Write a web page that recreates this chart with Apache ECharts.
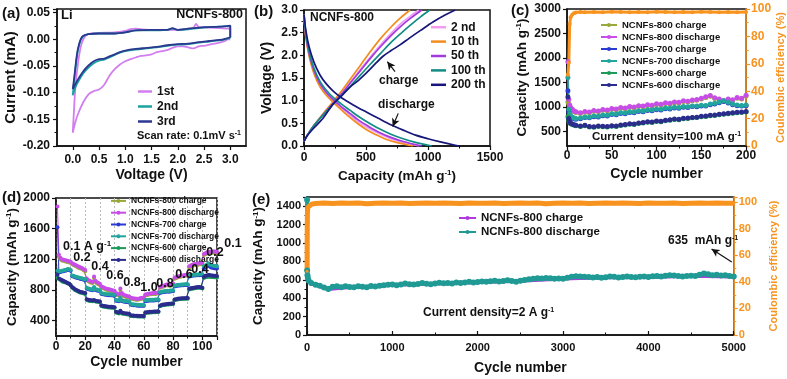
<!DOCTYPE html>
<html>
<head>
<meta charset="utf-8">
<script src="https://cdn.jsdelivr.net/npm/echarts@6/dist/echarts.min.js"></script>
<style>
html, body { margin: 0; padding: 0; background: #fff; }
#main { width: 787px; height: 379px; }
</style>
</head>
<body>
<div id="main"></div>
<script>
// ---- (a) CV curves: [voltage, current]
var cv1st = [[3.0,0.000],[2.95,0.000],[2.9,-0.003],[2.8,-0.006],[2.7,-0.008],[2.6,-0.010],[2.5,-0.012],[2.4,-0.013],[2.3,-0.017],[2.2,-0.015],[2.1,-0.013],[2.0,-0.013],[1.9,-0.016],[1.8,-0.020],[1.7,-0.022],[1.6,-0.024],[1.5,-0.028],[1.4,-0.030],[1.3,-0.031],[1.2,-0.034],[1.1,-0.037],[1.0,-0.041],[0.9,-0.047],[0.8,-0.056],[0.7,-0.068],[0.6,-0.085],[0.5,-0.094],[0.4,-0.097],[0.3,-0.103],[0.2,-0.118],[0.1,-0.140],[0.05,-0.155],[0.0,-0.175],
  [0.02,-0.140],[0.05,-0.090],[0.1,-0.045],[0.15,-0.015],[0.2,0.000],[0.25,0.007],[0.3,0.010],[0.5,0.012],[0.8,0.013],[1.0,0.016],[1.1,0.019],[1.2,0.020],[1.3,0.019],[1.5,0.018],[1.8,0.018],[2.0,0.018],[2.2,0.020],[2.3,0.022],[2.35,0.029],[2.4,0.023],[2.6,0.022],[2.8,0.021],[2.95,0.020],[3.0,0.020],[3.0,0.003]];
var cv2nd = [[3.0,0.003],[2.9,0.000],[2.8,-0.002],[2.6,-0.004],[2.4,-0.006],[2.2,-0.009],[2.0,-0.010],[1.8,-0.012],[1.6,-0.015],[1.4,-0.017],[1.2,-0.019],[1.0,-0.022],[0.9,-0.025],[0.8,-0.029],[0.7,-0.034],[0.6,-0.038],[0.5,-0.040],[0.4,-0.045],[0.3,-0.053],[0.2,-0.064],[0.1,-0.080],[0.05,-0.090],[0.0,-0.105],
  [0.03,-0.075],[0.07,-0.040],[0.1,-0.020],[0.15,-0.002],[0.2,0.006],[0.3,0.010],[0.5,0.011],[0.8,0.011],[1.0,0.013],[1.2,0.017],[1.5,0.017],[1.8,0.018],[1.9,0.020],[2.0,0.018],[2.2,0.019],[2.5,0.022],[2.8,0.024],[3.0,0.025],[3.0,0.003]];
var cv3rd = [[3.0,0.004],[2.9,0.001],[2.8,-0.001],[2.6,-0.003],[2.4,-0.005],[2.2,-0.008],[2.0,-0.009],[1.8,-0.011],[1.6,-0.014],[1.4,-0.016],[1.2,-0.018],[1.0,-0.021],[0.9,-0.024],[0.8,-0.028],[0.7,-0.032],[0.6,-0.036],[0.5,-0.037],[0.4,-0.041],[0.3,-0.049],[0.2,-0.060],[0.1,-0.075],[0.05,-0.084],[0.0,-0.093],
  [0.03,-0.070],[0.07,-0.035],[0.1,-0.017],[0.15,0.000],[0.2,0.007],[0.3,0.010],[0.5,0.011],[0.8,0.011],[1.0,0.013],[1.2,0.017],[1.5,0.018],[1.8,0.018],[1.9,0.021],[2.0,0.018],[2.2,0.020],[2.5,0.023],[2.8,0.024],[3.0,0.026],[3.0,0.004]];

// ---- (b) charge / discharge profiles: [capacity, voltage]
var dis2 = [[0,2.9],[15,2.42],[40,2.02],[80,1.63],[130,1.33],[180,1.15],[240,0.98],[300,0.84],[370,0.68],[440,0.53],[510,0.41],[600,0.28],[700,0.16],[800,0.08],[930,0]];
var chg2 = [[0,0.1],[30,0.25],[80,0.45],[150,0.68],[220,0.9],[300,1.15],[380,1.43],[460,1.71],[540,1.98],[620,2.24],[700,2.48],[780,2.7],[860,2.87],[925,3.0]];
var dis10 = [[0,2.9],[15,2.4],[40,2.0],[80,1.6],[130,1.3],[180,1.12],[240,0.95],[300,0.8],[370,0.63],[440,0.48],[505,0.36],[580,0.25],[660,0.15],[760,0.07],[880,0]];
var chg10 = [[0,0.1],[30,0.25],[80,0.45],[150,0.7],[220,0.93],[300,1.2],[380,1.5],[460,1.8],[540,2.1],[620,2.38],[700,2.62],[780,2.83],[855,3.0]];
var dis50 = [[0,2.9],[15,2.45],[40,2.05],[80,1.67],[130,1.37],[180,1.18],[240,1.01],[300,0.87],[370,0.72],[440,0.57],[510,0.45],[600,0.31],[700,0.19],[800,0.1],[950,0]];
var chg50 = [[0,0.1],[30,0.25],[80,0.45],[150,0.68],[220,0.9],[300,1.14],[380,1.41],[460,1.68],[540,1.95],[620,2.2],[700,2.43],[780,2.64],[860,2.82],[950,3.0]];
var dis100 = [[0,2.9],[15,2.48],[40,2.1],[80,1.72],[130,1.42],[180,1.23],[240,1.06],[300,0.93],[370,0.79],[440,0.65],[510,0.53],[600,0.39],[700,0.26],[800,0.16],[900,0.08],[1030,0]];
var chg100 = [[0,0.1],[30,0.25],[80,0.45],[150,0.67],[220,0.88],[300,1.1],[380,1.34],[460,1.58],[540,1.82],[620,2.05],[700,2.28],[780,2.48],[860,2.67],[940,2.85],[1015,3.0]];
var dis200 = [[0,2.9],[15,2.55],[40,2.2],[80,1.85],[130,1.56],[180,1.37],[240,1.2],[300,1.07],[370,0.95],[440,0.84],[510,0.74],[600,0.61],[700,0.47],[800,0.35],[900,0.24],[1000,0.16],[1100,0.09],[1180,0.04],[1250,0]];
var chg200 = [[0,0.1],[30,0.24],[80,0.4],[150,0.6],[236,0.93],[300,1.1],[371,1.3],[440,1.45],[505,1.62],[570,1.8],[637,1.98],[700,2.1],[774,2.23],[850,2.38],[940,2.55],[1043,2.74],[1130,2.88],[1220,3.0]];

// ---- (c) cycling at 100 mA g-1
var cycC = [1,2,3,4,6,8,10,15,20,25,30,35,40,45,50,55,60,65,70,75,80,85,90,95,100,105,110,115,120,125,130,135,140,145,150,155,160,165,170,175,180,185,190,195,200];
var c800dis = [1920,1150,1040,990,950,915,900,880,905,895,925,915,945,935,965,955,985,975,1005,995,1025,1015,1045,1035,1065,1055,1085,1075,1100,1095,1125,1115,1140,1150,1175,1205,1230,1185,1160,1130,1160,1145,1190,1175,1235];
var c800chg = [1100,1060,990,950,925,900,885,865,890,880,910,900,930,920,950,940,970,960,990,980,1010,1000,1030,1020,1050,1040,1070,1060,1085,1080,1110,1100,1125,1135,1160,1190,1215,1170,1145,1115,1145,1130,1175,1160,1220];
var c700dis = [1600,950,860,820,790,770,760,770,795,790,815,810,835,830,860,855,880,875,900,895,920,915,940,935,955,950,975,970,990,985,1005,1000,1020,1015,1035,1030,1060,1075,1100,1125,1095,1060,1040,1030,1040];
var c700chg = [1330,900,830,800,775,755,745,755,780,775,800,795,820,815,845,840,865,860,885,880,905,900,925,920,940,935,960,955,975,970,990,985,1005,1000,1020,1015,1045,1060,1085,1110,1080,1045,1025,1015,1025];
var c600dis = [1200,760,700,670,650,635,625,610,625,600,595,610,605,600,615,610,630,640,655,650,670,680,695,690,710,705,725,735,750,745,765,770,785,790,810,815,830,835,850,860,870,880,890,895,905];
var c600chg = [800,720,680,655,640,625,615,600,615,590,585,600,595,590,605,600,620,630,645,640,660,670,685,680,700,695,715,725,740,735,755,760,775,780,800,805,820,825,840,850,860,870,880,885,895];
var cycCE = [1,2,3,4,6,8,10,15,20,30,40,50,60,70,80,90,100,110,120,130,140,150,160,170,180,190,200];
var ceC = [52,61,89,94,96,97,97.5,97.8,97.6,97.9,97.7,98.0,97.8,97.6,97.9,97.7,98.0,97.8,97.6,97.9,97.7,98.0,97.8,97.6,97.9,97.7,97.8];

// ---- (d) rate performance, cycles 1..110
var d800dis = [1890,1260,1220,1200,1195,1190,1185,1180,1175,1170, 1150,1140,1130,1120,1110,1100,1095,1085,1070,1060, 950,930,920,910,905,975,920,900,890,880, 850,840,830,820,815,810,805,800,795,790, 760,750,745,820,760,740,730,725,720,715, 700,695,690,688,686,685,690,695,700,700, 740,745,750,755,755,760,760,760,765,765, 840,850,855,860,870,875,870,865,880,885, 960,970,975,980,985,990,990,995,1000,1000, 1110,1120,1130,1135,1140,1140,1145,1150,1150,1155, 1270,1280,1290,1295,1300,1300,1300,1305,1300,1300];
var d800chg = [1000,1230,1200,1185,1180,1175,1170,1165,1160,1155, 1135,1125,1115,1105,1095,1085,1080,1070,1055,1045, 935,915,905,895,890,955,905,885,875,865, 835,825,815,805,800,795,790,785,780,775, 745,735,730,800,745,725,715,710,705,700, 688,683,678,676,674,673,678,683,688,688, 728,733,738,743,743,748,748,748,753,753, 828,838,843,848,858,863,858,853,868,873, 948,958,963,968,973,978,978,983,988,988, 1095,1105,1115,1120,1125,1125,1130,1135,1135,1140, 1255,1265,1275,1280,1285,1285,1285,1290,1285,1285];
var d700dis = [1050,1040,1045,1050,1055,1060,1065,1075,1070,1060, 990,985,975,970,965,960,955,950,945,940, 830,820,815,810,808,840,810,805,800,798, 760,755,750,748,745,743,742,740,738,735, 670,665,662,700,665,660,658,655,652,650, 620,615,612,610,608,606,605,605,604,603, 665,668,670,672,672,673,674,675,676,676, 770,778,782,785,788,790,788,792,795,795, 855,862,866,868,870,872,873,874,875,875, 985,990,995,998,1000,1002,1003,1004,1005,1005, 1110,1120,1130,1150,1135,1125,1120,1115,1112,1110];
var d700chg = [1620,1030,1035,1040,1045,1050,1055,1065,1060,1050, 980,975,965,960,955,950,945,940,935,930, 820,810,805,800,798,830,800,795,790,788, 750,745,740,738,735,733,732,730,728,725, 660,655,652,690,655,650,648,645,642,640, 610,605,602,600,598,596,595,595,594,593, 655,658,660,662,662,663,664,665,666,666, 760,768,772,775,778,780,778,782,785,785, 845,852,856,858,860,862,863,864,865,865, 975,980,985,988,990,992,993,994,995,995, 1080,1095,1105,1120,1105,1095,1090,1085,1082,1080];
var d600dis = [1000,950,940,930,920,910,900,890,880,860, 840,825,810,800,790,780,775,770,765,760, 680,672,668,665,662,670,660,656,652,650, 600,595,590,588,585,583,582,580,578,576, 515,510,505,530,505,500,498,495,492,490, 470,468,466,465,464,463,462,462,461,460, 505,510,512,515,516,517,518,519,520,520, 595,605,610,612,615,618,620,622,623,625, 675,680,685,688,690,692,693,694,695,695, 815,822,826,830,832,835,838,840,836,830, 970,985,990,995,995,990,988,985,985,983];
var d600chg = [960,945,930,915,905,900,895,885,880,870, 830,815,800,790,780,770,765,760,755,750, 670,662,658,655,652,660,650,646,642,640, 590,585,580,578,575,573,572,570,568,566, 505,500,495,520,495,490,488,485,482,480, 462,460,458,457,456,455,454,454,453,452, 497,502,504,507,508,509,510,511,512,512, 587,597,602,604,607,610,612,614,615,617, 667,672,677,680,682,684,685,686,687,687, 805,812,816,820,822,825,828,830,826,820, 955,965,970,972,972,970,968,966,965,963];
var rateLabels = ['0.1 A g{sup|-1}','0.2','0.4','0.6','0.8','1.0','0.8','0.6','0.4','0.2','0.1'];

// ---- (e) long cycling at 2 A g-1
var cycE = [1,2,5,10,20,50,100,150,200,250,300,350,400,450,500,550,600,650,700,750,800,850,900,950,1000,1050,1100,1150,1200,1250,1300,1350,1400,1450,1500,1550,1600,1650,1700,1750,1800,1850,1900,1950,2000,2050,2100,2150,2200,2250,2300,2350,2400,2450,2500,2550,2600,2650,2700,2750,2800,2850,2900,2950,3000,3050,3100,3150,3200,3250,3300,3350,3400,3450,3500,3550,3600,3650,3700,3750,3800,3850,3900,3950,4000,4050,4100,4150,4200,4250,4300,4350,4400,4450,4500,4550,4600,4650,4700,4750,4800,4850,4900,4950,5000];
var e800dis = [1470,700,650,620,590,565,545,535,515,500,525,530,520,530,522,518,530,525,520,532,528,535,540,545,548,540,548,560,552,548,555,565,558,552,560,568,562,566,560,570,565,572,578,570,575,582,578,585,590,582,588,595,588,580,590,598,605,612,618,615,620,618,612,615,612,622,632,638,635,632,630,626,630,622,628,635,632,625,630,636,630,628,632,635,630,638,642,635,645,650,646,640,635,640,645,642,655,668,660,650,655,648,650,642,635];
var cycEchg = [1,2,10,50,250,500,1000,1500,2000,2500,3000,3500,4000,4500,5000];
var e800chg = [650,640,600,555,495,515,540,555,570,585,608,622,626,638,630];
var cycECE = [1,2,3,5,10,20,50,100,200,300,400,500,600,700,800,900,1000,1100,1200,1300,1400,1500,1600,1700,1800,1900,2000,2100,2200,2300,2400,2500,2600,2700,2800,2900,3000,3100,3200,3300,3400,3500,3600,3700,3800,3900,4000,4100,4200,4300,4400,4500,4600,4700,4800,4900,5000];
var ceE = [48,70,82,92,96,97.5,98.6,99.1,99.4,99.1,99.5,99.2,99.4,99.0,99.3,99.5,99.2,99.4,99.1,99.3,99.5,99.2,99.4,99.3,99.1,99.5,99.3,99.2,99.4,99.1,99.3,99.5,99.2,99.4,99.0,99.3,99.5,99.2,99.4,99.1,99.3,99.5,99.2,99.4,99.3,99.1,99.5,99.3,99.2,99.4,99.1,99.3,99.5,99.2,99.4,99.3,99.2];

var FONT = '"Liberation Sans", Arial, sans-serif';
var INK = '#111';
var ORANGE = '#f7931e';
var C = {olive: '#9aa83a', magenta: '#c84ce8', blue: '#2a3bd4', teal: '#22a59c', green: '#1b9a5a', navy: '#2b2c8c'};

var chart = echarts.init(document.getElementById('main'), null, {renderer: 'canvas'});

function sup(size) {
    return {sup: {fontSize: size, fontWeight: 'bold', fontFamily: FONT, verticalAlign: 'top', lineHeight: size + 6}};
}

function axis(o) {
    var col = o.color || INK;
    var a = {
        type: 'value', gridIndex: o.g, position: o.pos, min: o.min, max: o.max,
        name: o.name, nameLocation: 'middle', nameGap: o.gap,
        nameTextStyle: {color: col, fontSize: o.nameSize || 14, fontWeight: 'bold', fontFamily: FONT, rich: sup(8)},
        axisLine: {show: true, onZero: false, lineStyle: {color: col, width: 1.5}},
        axisTick: {show: true, inside: !!o.inside, length: 4, lineStyle: {color: col, width: 1.2}},
        minorTick: {show: !!o.minor, splitNumber: o.minor || 2, length: 2.5, lineStyle: {color: col, width: 1}},
        axisLabel: {color: col, fontSize: o.labSize || 12, fontWeight: 'bold', fontFamily: FONT, margin: o.margin || 6,
            formatter: o.fmt || function (v) { return String(v); }},
        splitLine: {show: false}
    };
    if (o.interval != null) a.interval = o.interval;
    if (o.custom) { a.axisLabel.customValues = o.custom; a.axisTick.customValues = o.custom; }
    if (o.hideMax) a.axisLabel.showMaxLabel = false;
    return a;
}

function pairs(xs, ys) { return xs.map(function (x, i) { return [x, ys[i]]; }); }
function byCycle(ys) { return ys.map(function (v, i) { return [i + 1, v]; }); }

function plain(name, data, color, xi, yi, w) {
    return {name: name, type: 'line', xAxisIndex: xi, yAxisIndex: yi, data: data, symbol: 'none',
        smooth: 0.3, lineStyle: {color: color, width: w || 1.7}, itemStyle: {color: color}, z: 3};
}
function dotted(name, data, color, xi, yi, size, w) {
    return {name: name, type: 'line', xAxisIndex: xi, yAxisIndex: yi, data: data, symbol: 'circle',
        symbolSize: size || 4, lineStyle: {color: color, width: w || 1}, itemStyle: {color: color}, z: 3};
}

function legend(names, left, top, size, lh, iw, ih, icon) {
    var l = {data: names, orient: 'vertical', left: left, top: top, itemWidth: iw, itemHeight: ih,
        itemGap: 0, selectedMode: false, padding: 0,
        textStyle: {color: INK, fontSize: size, fontWeight: 'bold', fontFamily: FONT, lineHeight: lh},
        formatter: function (n) { return n.indexOf('|') > -1 ? n.split('|')[1] : n; }};
    if (icon) l.icon = icon;
    return l;
}

function txt(x, y, text, size, align, color) {
    return {type: 'text', x: x, y: y, silent: true, z: 50,
        style: {text: text, fill: color || INK, fontSize: size, fontWeight: 'bold', fontFamily: FONT,
            align: align || 'left', verticalAlign: 'middle', rich: sup(Math.round(size * 0.62))}};
}

function arrow(coords) {
    return {silent: true, symbol: ['none', 'arrow'], symbolSize: [6, 8], animation: false,
        label: {show: false}, lineStyle: {color: INK, width: 1.2, type: 'solid'},
        data: [[{coord: coords[0]}, {coord: coords[1]}]]};
}

var names = ['NCNFs-800 charge', 'NCNFs-800 discharge', 'NCNFs-700 charge', 'NCNFs-700 discharge', 'NCNFs-600 charge', 'NCNFs-600 discharge'];
var cols = [C.olive, C.magenta, C.blue, C.teal, C.green, C.navy];
function pre(p) { return names.map(function (n) { return p + '|' + n; }); }

var cSets = [c800chg, c800dis, c700chg, c700dis, c600chg, c600dis];
var dSets = [d800chg, d800dis, d700chg, d700dis, d600chg, d600dis];

var series = [
    plain('1st', cv1st, '#d27ef0', 0, 0, 1.8),
    plain('2nd', cv2nd, '#1aa3a0', 0, 0, 1.8),
    plain('3rd', cv3rd, '#2c3790', 0, 0, 1.8),
    plain('2 nd', dis2, '#f49af0', 1, 1), plain('2 nd', chg2, '#f49af0', 1, 1),
    plain('10 th', dis10, '#f28c1c', 1, 1), plain('10 th', chg10, '#f28c1c', 1, 1),
    plain('50 th', dis50, '#a13be0', 1, 1), plain('50 th', chg50, '#a13be0', 1, 1),
    plain('100 th', dis100, '#138d84', 1, 1), plain('100 th', chg100, '#138d84', 1, 1),
    plain('200 th', dis200, '#17167a', 1, 1), plain('200 th', chg200, '#17167a', 1, 1)
];
series[series.length - 1].markLine = arrow([[734, 1.64], [672, 1.86]]);
series[series.length - 2].markLine = arrow([[760, 0.72], [715, 0.43]]);

cSets.forEach(function (s, i) { series.push(dotted(pre('c')[i], pairs(cycC, s), cols[i], 2, 2, 5, 1.5)); });
series.push(dotted('c|CE', pairs(cycCE, ceC), ORANGE, 2, 3, 4, 3));
dSets.forEach(function (s, i) { series.push(dotted(pre('d')[i], byCycle(s), cols[i], 3, 4, 4)); });
series.push(dotted('e|NCNFs-800 charge', pairs(cycEchg, e800chg), '#b03ae0', 5, 5, 4, 3));
var eDis = dotted('e|NCNFs-800 discharge', pairs(cycE, e800dis), '#1f9a94', 5, 5, 6, 4);
eDis.markLine = arrow([[4977, 793], [4740, 935]]);
series.push(eDis);
series.push(dotted('e|CE', pairs(cycECE, ceE), ORANGE, 5, 6, 3, 5));

var graphics = [
    txt(2, 14, '(a)', 15), txt(254, 12, '(b)', 15), txt(511, 11, '(c)', 15),
    txt(2, 198, '(d)', 15), txt(252, 200, '(e)', 15),
    txt(61, 15, 'Li', 13), txt(243, 15, 'NCNFs-800', 12.5, 'right'),
    txt(241, 136, 'Scan rate: 0.1mV s{sup|-1}', 11, 'right'),
    txt(310, 18, 'NCNFs-800', 12), txt(379, 81, 'charge', 12), txt(378, 105, 'discharge', 12),
    txt(592, 137, 'Current density=100 mA g{sup|-1}', 11.5),
    txt(668, 241, '635  mAh g{sup|-1}', 12),
    txt(423, 313, 'Current density=2 A g{sup|-1}', 12)
];
var rateX = [63, 82, 100, 115, 132, 149, 165, 184, 200, 215, 233];
var rateY = [247, 258, 267, 276, 283, 288, 284, 275, 270, 253, 244];
rateLabels.forEach(function (t, i) { graphics.push(txt(rateX[i], rateY[i], t, 12.5, i === 0 ? 'left' : 'center')); });

var option = {
    animation: false,
    backgroundColor: '#fff',
    grid: [
        {left: 57, top: 9, width: 189, height: 137},
        {left: 304, top: 10, width: 186, height: 136},
        {left: 567, top: 9, width: 185, height: 137},
        {left: 56, top: 198, width: 161, height: 138},
        {left: 307, top: 197, width: 443, height: 138}
    ].map(function (g) { g.show = true; g.borderColor = INK; g.borderWidth = 1.5; g.backgroundColor = 'transparent'; return g; }),
    xAxis: [
        axis({g: 0, min: -0.3, max: 3.3, custom: [0, 0.5, 1, 1.5, 2, 2.5, 3], fmt: function (v) { return v.toFixed(1); }, name: 'Voltage (V)', gap: 22, margin: 8}),
        axis({g: 1, min: 0, max: 1500, interval: 500, minor: 2, name: 'Capacity (mAh g{sup|-1})', gap: 23, nameSize: 13.5, margin: 6}),
        axis({g: 2, min: 0, max: 200, interval: 50, minor: 2, name: 'Cycle number', gap: 21, margin: 4}),
        axis({g: 3, min: 0, max: 110, interval: 20, minor: 2, hideMax: true, name: 'Cycle number', gap: 19, margin: 5}),
        {type: 'value', gridIndex: 3, min: 0, max: 110, interval: 10, axisLine: {show: false}, axisTick: {show: false}, axisLabel: {show: false},
            splitLine: {show: true, lineStyle: {color: '#bbb', type: [2, 2], width: 1}}},
        axis({g: 4, min: 0, max: 5000, interval: 1000, minor: 2, inside: true, name: 'Cycle number', gap: 26, labSize: 11, margin: 7})
    ],
    yAxis: [
        axis({g: 0, min: -0.2, max: 0.057, interval: 0.05, minor: 2, hideMax: true, fmt: function (v) { return v.toFixed(2); }, name: 'Current (mA)', gap: 38, nameSize: 15, margin: 7}),
        axis({g: 1, min: 0, max: 3, interval: 0.5, minor: 2, fmt: function (v) { return v.toFixed(1); }, name: 'Voltage (V)', gap: 30, margin: 6}),
        axis({g: 2, min: 200, max: 3000, custom: [500, 1000, 1500, 2000, 2500, 3000], name: 'Capacity (mAh g{sup|-1})', gap: 38, nameSize: 13.5, margin: 6}),
        axis({g: 2, pos: 'right', min: 0, max: 100, interval: 20, minor: 2, color: ORANGE, name: 'Coulombic efficiency (%)', gap: 24, nameSize: 11, margin: 5}),
        axis({g: 3, min: 200, max: 2000, custom: [400, 800, 1200, 1600, 2000], name: 'Capacity (mAh g{sup|-1})', gap: 37, nameSize: 13.5, margin: 6}),
        axis({g: 4, min: 0, max: 1500, interval: 200, minor: 2, hideMax: true, name: 'Capacity (mAh g{sup|-1})', gap: 38, nameSize: 13.5, labSize: 11, margin: 6}),
        axis({g: 4, pos: 'right', min: 0, max: 104, interval: 20, minor: 2, hideMax: true, color: ORANGE, name: 'Coulombic efficiency (%)', gap: 24, nameSize: 11, labSize: 11, margin: 5})
    ],
    legend: [
        legend(['1st', '2nd', '3rd'], 138, 84, 12, 15, 14, 2.5, 'rect'),
        legend(['2 nd', '10 th', '50 th', '100 th', '200 th'], 431, 20, 12, 14.4, 15, 2.5, 'rect'),
        legend(pre('c'), 600, 19, 9.5, 12, 16, 5),
        legend(pre('d'), 110, 195, 8.5, 11.8, 15, 5),
        legend(['e|NCNFs-800 charge', 'e|NCNFs-800 discharge'], 458, 211, 11.5, 14, 17, 5)
    ],
    graphic: graphics,
    series: series
};

chart.setOption(option);
</script>
</body>
</html>
